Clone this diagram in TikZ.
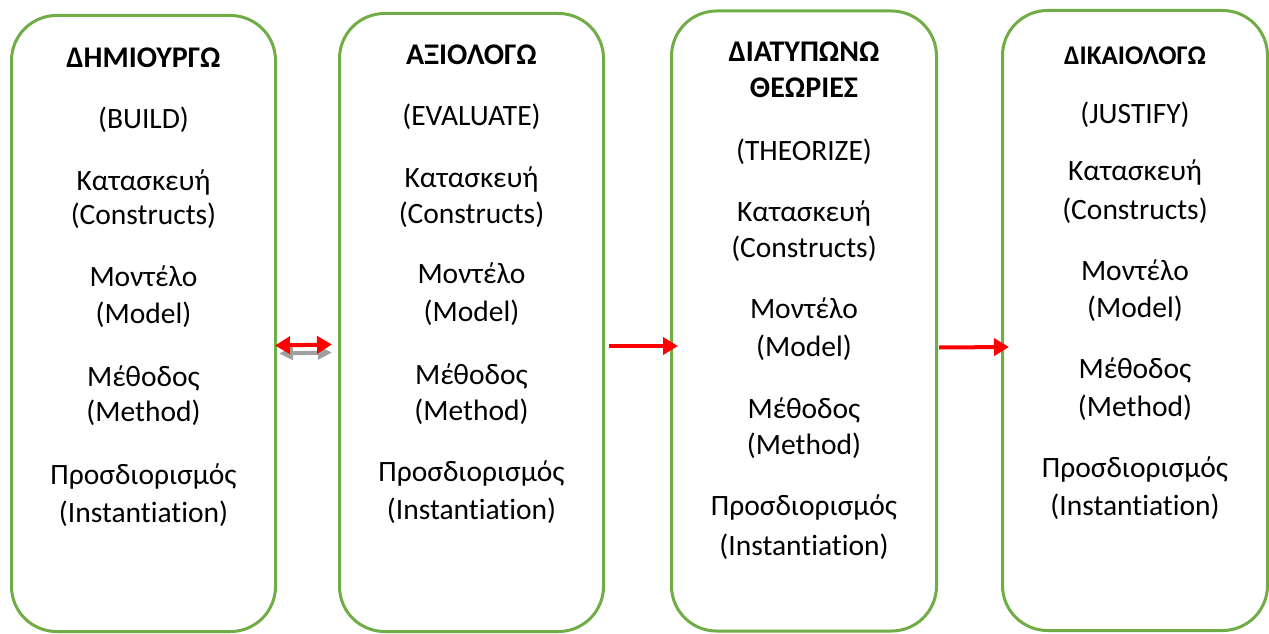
\documentclass[tikz,border=0pt]{standalone}
\usepackage{fontspec}
\setmainfont[Ligatures=NoCommon]{Carlito}
\usetikzlibrary{arrows.meta}
\definecolor{boxgreen}{HTML}{70AD47}
\definecolor{shadowgrey}{HTML}{A0A0A0}
\tikzset{
  stage/.style={draw=boxgreen, line width=3pt, rounded corners=45pt,
    rectangle, inner sep=0pt},
  txt/.style={font=\fontsize{29.5}{34}\selectfont, inner sep=0pt, anchor=base},
  head/.style={font=\fontsize{30}{34}\selectfont\bfseries, inner sep=0pt, anchor=base},
  headsmall/.style={font=\fontsize{27}{31}\selectfont\bfseries, inner sep=0pt, anchor=base},
  flow/.style={draw=red, line width=4pt, -{Triangle[length=15pt,width=17pt]}},
  twoway/.style={draw=red, line width=4pt,
    {Triangle[length=15pt,width=17pt]}-{Triangle[length=15pt,width=17pt]}},
  twowayshadow/.style={draw=shadowgrey, line width=4pt,
    {Triangle[length=14pt,width=13pt]}-{Triangle[length=14pt,width=13pt]}},
}
\begin{document}
\begin{tikzpicture}[x=1pt, y=-1pt]
\useasboundingbox (0,0) rectangle (1269,634);

% the four stages
\node[stage, minimum width=264pt, minimum height=616pt] (b1) at (143.5,323.5) {};
\node[stage, minimum width=264pt, minimum height=618pt] (b2) at (471.5,322.5) {};
\node[stage, minimum width=265pt, minimum height=620pt] (b3) at (804,321) {};
\node[stage, minimum width=265pt, minimum height=620pt] (b4) at (1135,320.5) {};

% stage 1: build
\node[head] (b1h) at (143.5,68) {ΔΗΜΙΟΥΡΓΩ};
\node[txt] (b1e) at (143.5,128) {(BUILD)};
\node[txt] (b1c) at (143.5,190) {Κατασκευή};
\node[txt] (b1ce) at (143.5,224) {(Constructs)};
\node[txt] (b1m) at (143.5,286) {Μοντέλο};
\node[txt] (b1me) at (143.5,323) {(Model)};
\node[txt] (b1d) at (143.5,386) {Μέθοδος};
\node[txt] (b1de) at (143.5,421) {(Method)};
\node[txt] (b1i) at (143.5,484) {Προσδιορισμός};
\node[txt] (b1ie) at (143.5,522) {(Instantiation)};

% stage 2: evaluate
\node[head] (b2h) at (471.5,65) {ΑΞΙΟΛΟΓΩ};
\node[txt] (b2e) at (471.5,125) {(EVALUATE)};
\node[txt] (b2c) at (471.5,187) {Κατασκευή};
\node[txt] (b2ce) at (471.5,223) {(Constructs)};
\node[txt] (b2m) at (471.5,283) {Μοντέλο};
\node[txt] (b2me) at (471.5,321) {(Model)};
\node[txt] (b2d) at (471.5,384) {Μέθοδος};
\node[txt] (b2de) at (471.5,420) {(Method)};
\node[txt] (b2i) at (471.5,481) {Προσδιορισμός};
\node[txt] (b2ie) at (471.5,519) {(Instantiation)};

% stage 3: theorize
\node[head] (b3h) at (804,62) {ΔΙΑΤΥΠΩΝΩ};
\node[head] (b3h2) at (804,97) {ΘΕΩΡΙΕΣ};
\node[txt] (b3e) at (804,160) {(THEORIZE)};
\node[txt] (b3c) at (804,221) {Κατασκευή};
\node[txt] (b3ce) at (804,257) {(Constructs)};
\node[txt] (b3m) at (804,318) {Μοντέλο};
\node[txt] (b3me) at (804,356) {(Model)};
\node[txt] (b3d) at (804,418) {Μέθοδος};
\node[txt] (b3de) at (804,454) {(Method)};
\node[txt] (b3i) at (804,515) {Προσδιορισμός};
\node[txt] (b3ie) at (804,555) {(Instantiation)};

% stage 4: justify
\node[headsmall] (b4h) at (1135,64) {ΔΙΚΑΙΟΛΟΓΩ};
\node[txt] (b4e) at (1135,123) {(JUSTIFY)};
\node[txt] (b4c) at (1135,180) {Κατασκευή};
\node[txt] (b4ce) at (1135,219) {(Constructs)};
\node[txt] (b4m) at (1135,280) {Μοντέλο};
\node[txt] (b4me) at (1135,317) {(Model)};
\node[txt] (b4d) at (1135,378) {Μέθοδος};
\node[txt] (b4de) at (1135,416) {(Method)};
\node[txt] (b4i) at (1135,477) {Προσδιορισμός};
\node[txt] (b4ie) at (1135,515) {(Instantiation)};

% connectors between the stages
\draw[twowayshadow] ([shift={(2,30)}]b1.east) -- ([shift={(-6,30)}]b2.west);
\draw[twoway] ([shift={(-2,22)}]b1.east) -- ([shift={(-6,22)}]b2.west);
\draw[flow] ([shift={(4,23.5)}]b2.east) -- ([shift={(8,25)}]b3.west);
\draw[flow] ([shift={(1,26.5)}]b3.east) -- ([shift={(8,26.5)}]b4.west);
\end{tikzpicture}
\end{document}
